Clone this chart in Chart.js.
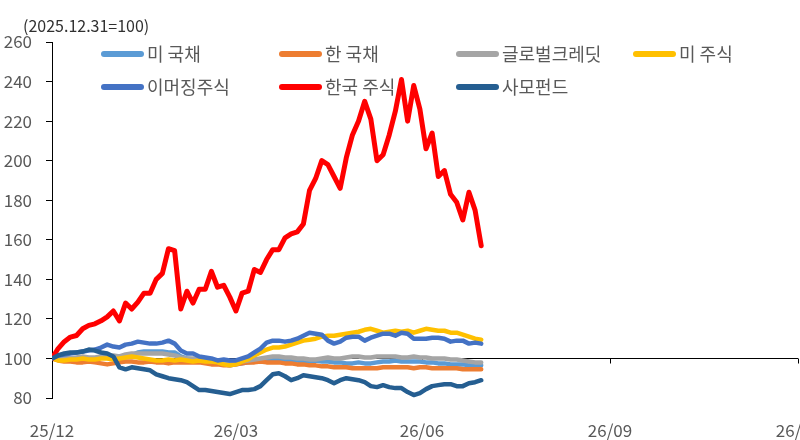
<!DOCTYPE html>
<html>
<head>
<meta charset="utf-8">
<script src="https://cdn.jsdelivr.net/npm/chart.js@4.4.1/dist/chart.umd.min.js"></script>
<style>
  html, body { margin: 0; padding: 0; background: #fff; overflow: hidden; }
  #wrap { width: 840px; height: 440px; }
</style>
</head>
<body>
<div id="wrap"><canvas id="assetChart"></canvas></div>
<script>
// x = days since 2025-12-31, one sample every 3 days
const sampleStep = 3;
const tickDays = [0, 90, 181, 273, 365];
const tickLabels = ['25/12', '26/03', '26/06', '26/09', '26/12'];
const yTitle = '(2025.12.31=100)';

const seriesNames = ['미 국채', '한 국채', '글로벌크레딧', '미 주식', '이머징주식', '한국 주식', '사모펀드'];
const seriesColors = ['#5B9BD5', '#ED7D31', '#A5A5A5', '#FFC000', '#4472C4', '#FF0000', '#255E91'];

const usBond = [100,100,100.5,100,100,100.5,100,100,100.5,100.5, 101,101,101,101.5,103,103.5,103.5,103.5,103.5,103, 103,101,100,99.5,99,98.5,98,97.5,97,96.5, 97,97.5,98,98.5,99,99.5,100,99.5,99,99, 99,98.5,98.5,99,98.5,98.5,98,98,97.5,97.5, 98,97.5,97.5,98,98.5,98.5,99,98.5,98.5,98.5, 98.5,98,98,97.5,97.5,97,97,97,96.5,96.5,96.5];
const krBond = [100,99,98.5,98.5,98,98,98.5,98,97.5,97, 97.5,98,98.5,98.5,98,98,98.5,98,98,97.5, 98,98,98,98,98,97.5,97,97,96.5,96.5, 97,97.5,98,98,98.5,98,98,98,97.5,97.5, 97,97,96.5,96.5,96,96,95.5,95.5,95.5,95, 95,95,95,95,95.5,95.5,95.5,95.5,95.5,95, 95.5,95.5,95,95,95,95,95,94.5,94.5,94.5,94.5];
const globalCredit = [100,100,100.5,100,100.5,101,100.5,100.5,101,101, 101.5,101,102,102.5,102.5,102.5,102.5,102.5,102.5,102, 101.5,100.5,100,100,99.5,99,98.5,98.5,98,97.5, 98,98.5,99,99.5,100,100.5,101,101,100.5,100.5, 100,100,99.5,99.5,100,100.5,100,100,100.5,101, 101,100.5,100.5,101,101,101,101,100.5,100.5,101, 100.5,100.5,100,100,100,99.5,99.5,99,98.5,98,98];
const usStock = [100,99,99,99.5,99.5,100,99.5,99.5,100,100, 99.5,100,100.5,101,100.5,100,99.5,99,99,99.5, 99,99.5,99,98.5,99,98.5,98.5,98,97,96.5, 97,98.5,99.5,101.5,103,104.5,105.5,105.5,106,107, 108,109,109.5,110,111,111.5,111.5,112,112.5,113, 113.5,114.5,115,114,113,113.5,114,113.5,114,113, 114,115,114.5,114,114,113,113,112,111,110,109.5];
const emStock = [100,101.5,102,102.5,103,103.5,104,104.5,105.5,107, 106,105.5,107,107.5,108.5,108,107.5,107.5,108,109, 107.5,104,102.5,102.5,101,100.5,100,99,99.5,99, 99,100,101,103,105,108,109,109,108.5,109, 110,111.5,113,112.5,112,109,107.5,108.5,110.5,111, 111,109,110.5,111.5,112.5,112.5,111.5,113,112.5,110, 110,110,110.5,110.5,110,108.5,109,109,107.5,108,107.5];
const krStock = [100,105,108.5,110.8,111.6,115,116.7,117.5,119,121, 124,119,128,125,128.5,133,133,140,143,155.5, 154.5,125,134,128,135,135,144,136,137,131, 124,133,134,145,143.5,150,155,155,161,163, 164,168,185,191,200,198,192,186,201.5,213, 220,230,221,200,203,213,225,241,220,238, 226,206,214,192,195,183,179,170,184,175,157];
const privateEquity = [100,101.5,102.5,103,103,103.5,104.5,104,103,102.5, 101,95.5,94.5,95.5,95,94.5,94,92,91,90, 89.5,89,88,86,84,84,83.5,83,82.5,82, 83,84,84,84.5,86,89,92,92.5,91,89, 90,91.5,91,90.5,90,89,87.5,89,90,89.5, 89,88,86,85.5,86.5,85.5,85,85,83,81.5, 82.5,84.5,86,86.5,87,87,86,86,87.5,88,89];

const allSeries = [usBond, krBond, globalCredit, usStock, emStock, krStock, privateEquity];

Chart.defaults.font.family = "'Noto Sans CJK KR', 'Noto Sans', sans-serif";
Chart.defaults.color = '#595959';

const toPoints = (values) => values.map((v, i) => ({ x: i * sampleStep, y: v }));

const decorations = {
    id: 'decorations',
    beforeDatasetsDraw(chart) {
        const { ctx, chartArea, scales: { x, y } } = chart;
        const y0 = Math.round(y.getPixelForValue(100)) + 0.5;
        ctx.save();
        ctx.strokeStyle = '#000';
        ctx.lineWidth = 1;
        ctx.beginPath();
        ctx.moveTo(chartArea.left, y0);
        ctx.lineTo(chartArea.right, y0);
        tickDays.forEach((d) => {
            const px = Math.round(x.getPixelForValue(d)) + 0.5;
            ctx.moveTo(px, y0);
            ctx.lineTo(px, y0 + 5);
        });
        ctx.stroke();
        ctx.restore();
    },
    afterDatasetsDraw(chart) {
        const { ctx } = chart;
        ctx.save();
        // axis title
        ctx.font = "16px 'Noto Sans CJK KR', 'Noto Sans', sans-serif";
        ctx.fillStyle = '#303030';
        ctx.textBaseline = 'middle';
        ctx.textAlign = 'left';
        ctx.fillText(yTitle, 23, 26);

        // legend, 4 columns x 2 rows
        const colX = [101, 279, 456, 633];
        const rowY = [54, 87];
        ctx.font = "18px 'Noto Sans CJK KR', 'Noto Sans', sans-serif";
        chart.data.datasets.forEach((ds, i) => {
            const lx = colX[i % 4];
            const ly = rowY[Math.floor(i / 4)];
            ctx.strokeStyle = ds.borderColor;
            ctx.lineWidth = 6;
            ctx.lineCap = 'round';
            ctx.beginPath();
            ctx.moveTo(lx + 3, ly);
            ctx.lineTo(lx + 40, ly);
            ctx.stroke();
            ctx.fillStyle = '#595959';
            ctx.fillText(ds.label, lx + 46, ly);
        });
        ctx.restore();
    }
};

const assetChart = new Chart(document.getElementById('assetChart'), {
    type: 'line',
    data: {
        datasets: allSeries.map((values, i) => ({
            label: seriesNames[i],
            data: toPoints(values),
            borderColor: seriesColors[i],
            backgroundColor: seriesColors[i],
            borderWidth: i === 5 ? 5 : 4.5,
            pointRadius: 0,
            tension: 0,
            borderJoinStyle: 'round',
            borderCapStyle: 'round',
            order: -i
        }))
    },
    options: {
        responsive: true,
        maintainAspectRatio: false,
        animation: false,
        layout: { padding: { top: 42, right: 42, left: 0, bottom: 0 } },
        plugins: {
            legend: { display: false },
            tooltip: { enabled: false }
        },
        scales: {
            x: {
                type: 'linear',
                min: 0,
                max: 365,
                afterBuildTicks: (s) => { s.ticks = tickDays.map((v) => ({ value: v })); },
                afterFit: (s) => { s.height = 42; },
                grid: { display: false },
                border: { display: false },
                ticks: {
                    padding: 14,
                    maxRotation: 0,
                    autoSkip: false,
                    font: { size: 17 },
                    callback: (v, idx) => tickLabels[idx]
                }
            },
            y: {
                min: 80,
                max: 260,
                afterFit: (s) => { s.width = 52; },
                grid: { drawOnChartArea: false, tickLength: 6, color: '#000' },
                border: { color: '#000', width: 1 },
                ticks: { stepSize: 20, padding: 14, font: { size: 17 } }
            }
        }
    },
    plugins: [decorations]
});
</script>
</body>
</html>
